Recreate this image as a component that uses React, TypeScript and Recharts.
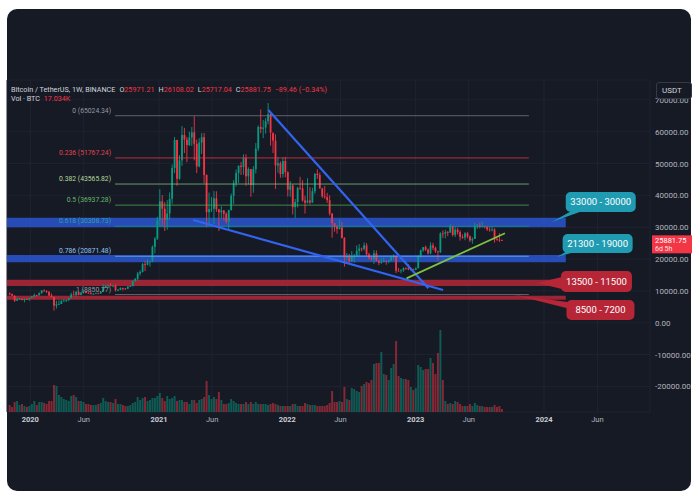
import {
  ComposedChart, Bar, XAxis, YAxis, CartesianGrid, ReferenceLine, ReferenceArea, ReferenceDot,
} from 'recharts';

const UP = '#089981';
const DOWN = '#f23645';
const BG = '#161a25';
const FONT = 'Roboto, "Open Sans", sans-serif';
const DAY = 86400000;
const T0 = Date.UTC(2020, 0, 1);

// weekly candles, BTCUSDT 1W, first week 2019-11-04
const firstWeek = Date.UTC(2019, 10, 4);
const firstOpen = 9200;

const highs = [
  9550, 9150, 8560, 7850, 7750, 7700, 7520, 7700, 7800,
  8450, 9190, 8790, 9550, 10200, 10500, 10200, 9970, 9190, 8150, 6900, 6980, 7200, 7470, 7290, 7740, 9470,
  10070, 9950, 9890, 9740, 10430, 9990, 9600, 9800, 9310, 9480, 9400, 9960, 12100, 11900, 12090, 12480, 11800,
  12090, 10620, 11100, 10990, 10950, 11500, 11720, 13220, 14090, 15960, 16480, 18790, 19420, 19900, 19400,
  24300, 26900, 33300,
  41950, 40100, 37850, 38500, 40950, 49700, 58350, 57500, 52650, 61800, 61200, 58400, 60000, 61500, 64850,
  57500, 58000, 59600, 59600, 46600, 40900, 39500, 41350, 41300, 35800, 36600, 35300, 34700, 35500, 40600,
  44800, 48100, 49400, 50500, 52900, 52900, 48800, 47800, 49200, 56500, 62000, 67000, 63700, 64270, 69000,
  66300, 59300, 59200, 51950, 50700, 52000, 52100,
  47550, 44500, 43500, 38900, 42700, 45850, 44750, 39900, 45400, 42600, 42400, 46900, 48200, 47200, 42400,
  42980, 40800, 40000, 34400, 31300, 30600, 32400, 31700, 26900, 21900, 21600, 22500, 21600, 24300, 24700,
  23600, 25200, 25000, 22000, 20600, 22800, 22700, 19700, 20300, 20500, 19500, 19700, 21000, 21500, 21000,
  17200, 16800, 17400, 17400, 18400, 17000, 16970,
  17400, 21300, 23000, 23800, 24250, 23300, 25250, 25100, 23880, 22600, 28400, 29000, 29200, 28800, 31000,
  30500, 30000, 29800, 29000, 27700, 28450, 28450, 27400, 26800, 31400, 31000, 31500, 31800, 30400, 30300,
  30050, 30250, 29700, 26800, 28150, 26108.02,
];

const lows = [
  8670, 8400, 6520, 6850, 7150, 7050, 6430, 7140, 6870,
  7670, 8100, 8230, 8530, 9080, 9720, 9300, 8410, 8000, 3780, 4440, 5670, 5860, 6660, 6460, 6770, 7630,
  8530, 8200, 8600, 8630, 9400, 9220, 9240, 8840, 8900, 9050, 9000, 9100, 9900, 10900, 11100, 11380, 11100,
  9800, 9880, 10200, 10140, 10370, 10530, 11200, 11420, 12950, 13200, 14800, 15780, 16200, 18000, 17600,
  19000, 21800, 26000,
  30200, 30400, 28800, 29200, 32300, 37400, 47000, 43000, 44900, 49300, 53300, 50400, 55500, 55500, 51000,
  47000, 48800, 53000, 43800, 30000, 31000, 34800, 31000, 34800, 28800, 32700, 32100, 31100, 29300, 35200,
  37300, 42800, 43900, 46400, 46500, 43000, 43400, 39600, 40800, 46900, 53900, 59500, 58000, 59400, 62300,
  55600, 53300, 42000, 47100, 45500, 45600, 45700,
  39650, 39600, 34000, 32900, 36200, 41700, 38000, 34300, 37500, 37200, 37600, 40500, 45200, 42100, 39200,
  38900, 37600, 33700, 26700, 28600, 28000, 29300, 26500, 17600, 19600, 18600, 19000, 18900, 20700, 20700,
  22400, 22700, 20800, 19800, 19500, 18500, 19300, 18100, 18500, 19000, 18200, 18700, 19300, 19900, 15600,
  16200, 15500, 16000, 16700, 16500, 16300, 16400,
  16500, 17100, 20400, 22300, 22500, 21400, 21500, 22800, 21900, 19550, 21900, 26600, 26500, 27200, 28200,
  27100, 26900, 27700, 25800, 26400, 25900, 26500, 25350, 24800, 26300, 29500, 29700, 29950, 29650, 28850,
  28600, 28700, 25150, 25800, 25330, 25717.04,
];

const closes = [
  9040, 8500, 6900, 7400, 7520, 7120, 7500, 7390, 7760,
  8180, 8700, 8600, 9300, 10150, 9920, 9670, 8540, 8030, 5360, 5820, 5880, 6770, 6900, 7120, 7700, 8900,
  8720, 9680, 8720, 9450, 9750, 9350, 9300, 9010, 9070, 9240, 9170, 9700, 11100, 11680, 11850, 11660, 11690,
  10250, 10330, 10930, 10770, 10670, 11370, 11500, 13030, 13760, 15480, 15960, 18400, 18180, 19150, 19270,
  23800, 26400, 32200,
  38150, 35800, 32260, 34300, 38900, 48600, 57400, 45200, 51000, 59000, 57500, 55800, 58200, 59800, 56200,
  49100, 56600, 58300, 46400, 34700, 35700, 35800, 39100, 35600, 34700, 35300, 34250, 31800, 35400, 39900,
  43800, 47000, 49300, 48900, 51800, 46000, 48300, 43200, 48200, 54700, 61500, 60900, 61300, 63300, 65500,
  59700, 57200, 49400, 50100, 46700, 50800, 47300,
  41800, 43100, 36300, 37900, 42400, 42200, 38400, 37700, 38400, 37800, 41300, 46800, 46400, 42200, 39700,
  39450, 38500, 34300, 31300, 30300, 29450, 29900, 26600, 20550, 21000, 19300, 20800, 20800, 22600, 23300,
  23200, 24300, 21500, 20300, 19990, 21800, 19400, 18800, 19050, 19450, 19200, 19570, 20600, 20900, 16300,
  16280, 16450, 17100, 17090, 16740, 16840, 16600,
  17130, 20880, 22700, 23750, 22940, 21790, 24280, 23560, 22430, 22160, 28040, 27990, 28450, 28320, 30300,
  27590, 29230, 28430, 26920, 26750, 28070, 27110, 25850, 26340, 30480, 30590, 30170, 30300, 30080, 29280,
  29050, 29280, 26190, 26090, 25971.21, 25881.75,
];

// weekly volume, thousand BTC
const volumes = [
  280, 200, 400, 440, 280, 320, 240, 200, 240,
  320, 440, 280, 400, 400, 360, 320, 440, 440,
  1080, 1040, 680, 600, 520, 480, 440, 640, 680, 600, 440, 440, 400,
  320, 320, 280, 280, 280, 320, 360,
  560, 440, 400, 400, 360, 520, 320, 320, 280, 240, 240, 280, 360, 400,
  600, 480, 560, 600, 440, 480, 560, 560, 640,
  760, 560, 440, 640, 520, 560,
  640, 440, 480, 480, 400, 400, 320, 480, 480, 360, 480, 520,
  600, 1240, 680, 520, 600, 520, 800, 480, 320, 320,
  360, 520, 440, 360, 320, 320, 320, 400, 320, 400,
  320, 400, 320, 320, 320, 320, 280, 320, 360, 320,
  280, 240, 240, 240, 240, 240, 320, 320, 240, 240,
  240, 360, 320, 280, 280, 280, 240, 240, 240, 240,
  280, 360, 840, 400, 400, 440, 400,
  1000, 520, 480, 960,
  920, 840, 800, 1040, 1120, 1200, 1160, 1280, 1920, 1960,
  1960, 2400, 1520, 1480, 1280, 1760, 1920, 2840, 1440, 1360,
  1320, 1320, 1280, 1000, 880, 960, 1880, 1800, 1680, 1720,
  1720, 2160, 1960, 1520, 2360, 3280, 1280, 440, 320, 360,
  320, 440, 400, 320, 240, 240, 240, 320, 240, 360,
  280, 240, 240, 200, 200, 200, 200, 280, 200, 240, 120,
];

const candles = closes.map((c, i) => ({
  t: firstWeek + i * 7 * DAY,
  open: i === 0 ? firstOpen : closes[i - 1],
  high: highs[i],
  low: lows[i],
  close: c,
  vol: volumes[i],
}));

const lastPrice = 25881.75;

// fibonacci retracement
const fibRatios = ['0', '0.236', '0.382', '0.5', '0.618', '0.786', '1'];
const fibPrices = [65024.34, 51767.24, 43565.82, 36937.28, 30308.73, 20871.48, 8850.77];
const fibStart = Date.UTC(2020, 7, 29);
const fibEnd = Date.UTC(2023, 10, 19);

// support / resistance zones
const zoneTops = [33000, 21300, 13500, 8500];
const zoneBottoms = [30000, 19000, 11500, 7200];
const zoneLabels = ['33000 - 30000', '21300 - 19000', '13500 - 11500', '8500 - 7200'];
const zoneEnd = Date.UTC(2024, 2, 3);
const calloutDates = [Date.UTC(2024, 0, 23), Date.UTC(2024, 1, 6), Date.UTC(2023, 11, 12), Date.UTC(2023, 9, 9)];
const calloutPrices = [31640, 20640, 12470, 8710];

// trend lines [start date, start price, end date, end price]
const wedgeTop = [Date.UTC(2021, 10, 8), 66800, Date.UTC(2023, 1, 6), 10800];
const wedgeBottom = [Date.UTC(2021, 3, 8), 32270, Date.UTC(2023, 2, 20), 10270];
const riseLine = [Date.UTC(2022, 11, 6), 13950, Date.UTC(2023, 8, 12), 28090];

const xTicks = [
  Date.UTC(2020, 0, 1), Date.UTC(2020, 5, 1), Date.UTC(2021, 0, 1), Date.UTC(2021, 5, 1),
  Date.UTC(2022, 0, 1), Date.UTC(2022, 5, 1), Date.UTC(2023, 0, 1), Date.UTC(2023, 5, 1),
  Date.UTC(2024, 0, 1), Date.UTC(2024, 5, 1),
];
const yTicks = [-20000, -10000, 0, 10000, 20000, 30000, 40000, 50000, 60000, 70000];

const xDomain = [T0 - 66.3 * DAY, T0 + 1762.5 * DAY];
const priceDomain = [-28050, 76250];
const volDomain = [0, 13280];

const fibLine = ['#787b86', '#f23645', '#81c784', '#4caf50', '#089981', '#64b5f6', '#787b86'];
const fibText = ['#9598a1', '#e2424f', '#b5d89a', '#66bb6a', '#2f9fb0', '#8fc3f0', '#9598a1'];
const zoneFill = ['#2a56d0', '#2a56d0', '#b02838', '#b02838'];
const calloutFill = ['#1f9cb2', '#1f9cb2', '#b72637', '#b72637'];
// box [dx, dy, w, h] relative to tip, tail base points
const calloutBox = [[14, -30, 70, 20], [6, -23, 70, 19], [24, -12, 71, 21], [52, 5, 68, 20]];
const calloutTail = [
  [[18, -10], [28, -10]],
  [[9, -5], [18, -5]],
  [[25, -6], [25, 6]],
  [[53, 7], [60, 15]],
];

function Candle(props: any) {
  const { x, y, width, height, payload } = props;
  if (!payload) return null;
  const top = Math.min(y, y + height);
  const h = Math.abs(height);
  const k = h / Math.max(payload.high - payload.low, 1);
  const cx = x + width / 2;
  const yo = top + (payload.high - payload.open) * k;
  const yc = top + (payload.high - payload.close) * k;
  const color = payload.close >= payload.open ? UP : DOWN;
  return (
    <g>
      <line x1={cx} x2={cx} y1={top} y2={top + h} stroke={color} strokeWidth={0.9} />
      <rect x={cx - 0.9} y={Math.min(yo, yc)} width={1.8} height={Math.max(Math.abs(yc - yo), 0.8)} fill={color} />
    </g>
  );
}

function VolBar(props: any) {
  const { x, y, width, height, payload } = props;
  if (!payload) return null;
  const color = payload.close >= payload.open ? UP : DOWN;
  return <rect x={x + width / 2 - 1} y={y} width={2} height={Math.max(height, 0)} fill={color} fillOpacity={0.5} />;
}

function XTick({ x, y, payload }: any) {
  const d = new Date(payload.value);
  const isYear = d.getUTCMonth() === 0;
  return (
    <text x={x} y={y} dy={2} textAnchor="middle" fontSize={7.5} fontFamily={FONT}
      fontWeight={isYear ? 700 : 400} fill={isYear ? '#c9ccd4' : '#b2b5be'}>
      {isYear ? d.getUTCFullYear() : 'Jun'}
    </text>
  );
}

function YTick({ x, y, payload }: any) {
  return (
    <text x={x} y={y} dx={-3} dy={3} textAnchor="start" fontSize={8} fontFamily={FONT} fill="#b2b5be">
      {payload.value.toFixed(2)}
    </text>
  );
}

export default function App() {
  return (
    <div style={{ position: 'absolute', left: 0, top: 0, width: 700, height: 500, background: '#fff', overflow: 'hidden' }}>
      <div style={{ position: 'absolute', left: 7, top: 9, width: 684, height: 482, borderRadius: 10, background: BG }} />
      <div style={{ position: 'absolute', left: 0, top: 0 }}>
        <ComposedChart width={692} height={492} data={candles} margin={{ top: 80, right: 0, bottom: 60, left: 7 }}
          style={{ fontFamily: FONT }}>
          <CartesianGrid yAxisId="p" stroke="#1f2330" strokeWidth={1} />
          <XAxis dataKey="t" type="number" domain={xDomain} ticks={xTicks} tick={<XTick />}
            axisLine={false} tickLine={false} height={20} interval={0} />
          <XAxis xAxisId="vx" dataKey="t" type="number" domain={xDomain} hide />
          <YAxis yAxisId="p" orientation="right" domain={priceDomain} ticks={yTicks} tick={<YTick />}
            axisLine={false} tickLine={false} width={42} interval={0} allowDataOverflow />
          <YAxis yAxisId="v" domain={volDomain} hide allowDataOverflow />

          {zoneTops.map((top, i) => (
            <ReferenceArea key={`z${i}`} yAxisId="p" x1={xDomain[0]} x2={zoneEnd} y1={zoneBottoms[i]} y2={top}
              fill={zoneFill[i]} fillOpacity={0.85} stroke="none" ifOverflow="hidden" />
          ))}

          <Bar xAxisId="vx" yAxisId="v" dataKey="vol" barSize={2} shape={<VolBar />} isAnimationActive={false} />
          <Bar yAxisId="p" dataKey={(d: any) => [d.low, d.high]} barSize={2} shape={<Candle />} isAnimationActive={false} />

          {fibPrices.map((p, i) => (
            <ReferenceLine key={`f${i}`} yAxisId="p" segment={[{ x: fibStart, y: p }, { x: fibEnd, y: p }]}
              stroke={fibLine[i]} strokeOpacity={0.75} strokeWidth={1} />
          ))}
          {fibPrices.map((p, i) => (
            <ReferenceDot key={`fl${i}`} yAxisId="p" x={fibStart} y={p} ifOverflow="visible"
              shape={(s: any) => (
                <text x={s.cx - 4} y={s.cy - 3} textAnchor="end" fontSize={6.8} fontFamily={FONT} fill={fibText[i]}>
                  {`${fibRatios[i]} (${p.toFixed(2)})`}
                </text>
              )} />
          ))}

          <ReferenceLine yAxisId="p" segment={[{ x: wedgeTop[0], y: wedgeTop[1] }, { x: wedgeTop[2], y: wedgeTop[3] }]}
            stroke="#3264f0" strokeWidth={2.2} ifOverflow="visible" />
          <ReferenceLine yAxisId="p" segment={[{ x: wedgeBottom[0], y: wedgeBottom[1] }, { x: wedgeBottom[2], y: wedgeBottom[3] }]}
            stroke="#3264f0" strokeWidth={2.2} ifOverflow="visible" />
          <ReferenceLine yAxisId="p" segment={[{ x: riseLine[0], y: riseLine[1] }, { x: riseLine[2], y: riseLine[3] }]}
            stroke="#7cc142" strokeWidth={1.8} ifOverflow="visible" />

          {zoneLabels.map((label, i) => (
            <ReferenceDot key={`c${i}`} yAxisId="p" x={calloutDates[i]} y={calloutPrices[i]} ifOverflow="visible"
              shape={(s: any) => {
                const [dx, dy, w, h] = calloutBox[i];
                const [a, b] = calloutTail[i];
                const bx = s.cx + dx;
                const by = s.cy + dy;
                return (
                  <g>
                    <polygon points={`${s.cx},${s.cy} ${s.cx + a[0]},${s.cy + a[1]} ${s.cx + b[0]},${s.cy + b[1]}`} fill={calloutFill[i]} />
                    <rect x={bx} y={by} width={w} height={h} rx={5} fill={calloutFill[i]} />
                    <text x={bx + w / 2} y={by + h / 2 + 3.4} textAnchor="middle" fontSize={9.5} fontFamily={FONT} fill="#fff">
                      {label}
                    </text>
                  </g>
                );
              }} />
          ))}

          <ReferenceDot yAxisId="p" x={xDomain[1]} y={lastPrice} ifOverflow="visible"
            shape={(s: any) => (
              <g>
                <rect x={s.cx + 2} y={s.cy - 5} width={40} height={18} fill={DOWN} />
                <text x={s.cx + 5} y={s.cy + 2.8} fontSize={7.5} fontFamily={FONT} fill="#fff">{lastPrice.toFixed(2)}</text>
                <text x={s.cx + 5} y={s.cy + 11} fontSize={7} fontFamily={FONT} fill="#fde0e3">6d 5h</text>
              </g>
            )} />
        </ComposedChart>
      </div>

      <div style={{ position: 'absolute', left: 11, top: 85, fontSize: 7.2, lineHeight: '9px', fontFamily: FONT, color: '#d1d4dc', whiteSpace: 'nowrap' }}>
        Bitcoin / TetherUS, 1W, BINANCE
        <span style={{ marginLeft: 4 }}>O<span style={{ color: DOWN }}>25971.21</span></span>
        <span style={{ marginLeft: 4 }}>H<span style={{ color: DOWN }}>26108.02</span></span>
        <span style={{ marginLeft: 4 }}>L<span style={{ color: DOWN }}>25717.04</span></span>
        <span style={{ marginLeft: 4 }}>C<span style={{ color: DOWN }}>25881.75</span></span>
        <span style={{ marginLeft: 4, color: DOWN }}>−89.46 (−0.34%)</span>
      </div>
      <div style={{ position: 'absolute', left: 11, top: 94, fontSize: 7.2, lineHeight: '9px', fontFamily: FONT, color: '#d1d4dc', whiteSpace: 'nowrap' }}>
        Vol · BTC <span style={{ color: DOWN, marginLeft: 2 }}>17.034K</span>
      </div>
      <div style={{
        position: 'absolute', left: 656, top: 82, width: 36, height: 17, border: '1px solid #363a45', borderRadius: 3,
        background: BG, color: '#d1d4dc', fontSize: 8, lineHeight: '15px', fontFamily: FONT, paddingLeft: 5, boxSizing: 'border-box',
      }}>
        USDT
      </div>
    </div>
  );
}
